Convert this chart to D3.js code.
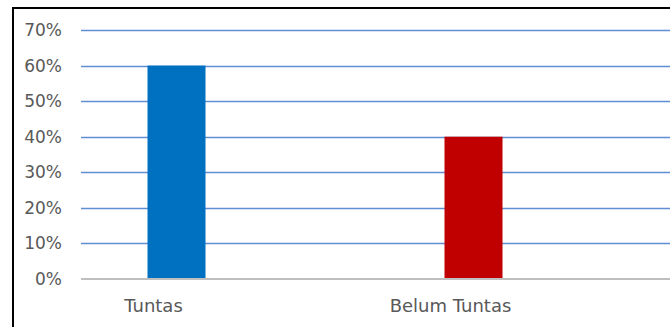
<!DOCTYPE html>
<html>
<head>
<meta charset="utf-8">
<script src="https://cdn.jsdelivr.net/npm/d3@7"></script>
<style>
html,body{margin:0;padding:0;background:#fff;}
svg{display:block;}
</style>
</head>
<body>
<svg id="chart" width="670" height="327"></svg>
<script>
const categories = ["Tuntas", "Belum Tuntas"];
const values = [0.60, 0.40];
const colors = ["#0070C0", "#C00000"];
const tickValues = [0, 0.1, 0.2, 0.3, 0.4, 0.5, 0.6, 0.7];

const svg = d3.select("#chart");
const plot = {left: 81, right: 670, top: 30, bottom: 279};

// frame
svg.append("rect").attr("x", 13).attr("y", 8).attr("width", 700).attr("height", 400)
  .attr("fill", "none").attr("stroke", "#000").attr("stroke-width", 2);

const y = d3.scaleLinear().domain([0, 0.7]).range([plot.bottom, plot.top]);
const x = d3.scaleBand().domain(categories).range([5, 599]).paddingInner(0).paddingOuter(0);
const barOffset = 23, barWidth = 58;

// gridlines
svg.append("g").selectAll("line").data(tickValues.filter(d => d > 0)).join("line")
  .attr("x1", plot.left).attr("x2", plot.right)
  .attr("y1", d => Math.round(y(d)) + 0.5).attr("y2", d => Math.round(y(d)) + 0.5)
  .attr("stroke", "#5F8ED2").attr("stroke-width", 1.6);

// bars
svg.append("g").selectAll("rect").data(categories).join("rect")
  .attr("x", (d) => x(d) + x.bandwidth() / 2 + barOffset - barWidth / 2)
  .attr("width", barWidth)
  .attr("y", (d, i) => y(values[i]))
  .attr("height", (d, i) => y(0) - y(values[i]))
  .attr("fill", (d, i) => colors[i]);

// baseline
svg.append("line").attr("x1", plot.left).attr("x2", plot.right)
  .attr("y1", y(0)).attr("y2", y(0)).attr("stroke", "#BFBFBF").attr("stroke-width", 2);

// y tick labels
const yAxis = d3.axisLeft(y).tickValues(tickValues).tickFormat(d3.format(".0%")).tickSize(0).tickPadding(0);
const gy = svg.append("g").attr("transform", "translate(62,0)").call(yAxis);
gy.select(".domain").remove();
gy.selectAll("text").attr("fill", "#595959").style("font-family", "DejaVu Sans").style("font-size", "17px");

// x labels
const xAxis = d3.axisBottom(x).tickSize(0).tickPadding(0);
const gx = svg.append("g").attr("transform", "translate(0,299)").call(xAxis);
gx.select(".domain").remove();
gx.selectAll("text").attr("fill", "#595959").style("font-family", "DejaVu Sans").style("font-size", "18px");
</script>
</body>
</html>
